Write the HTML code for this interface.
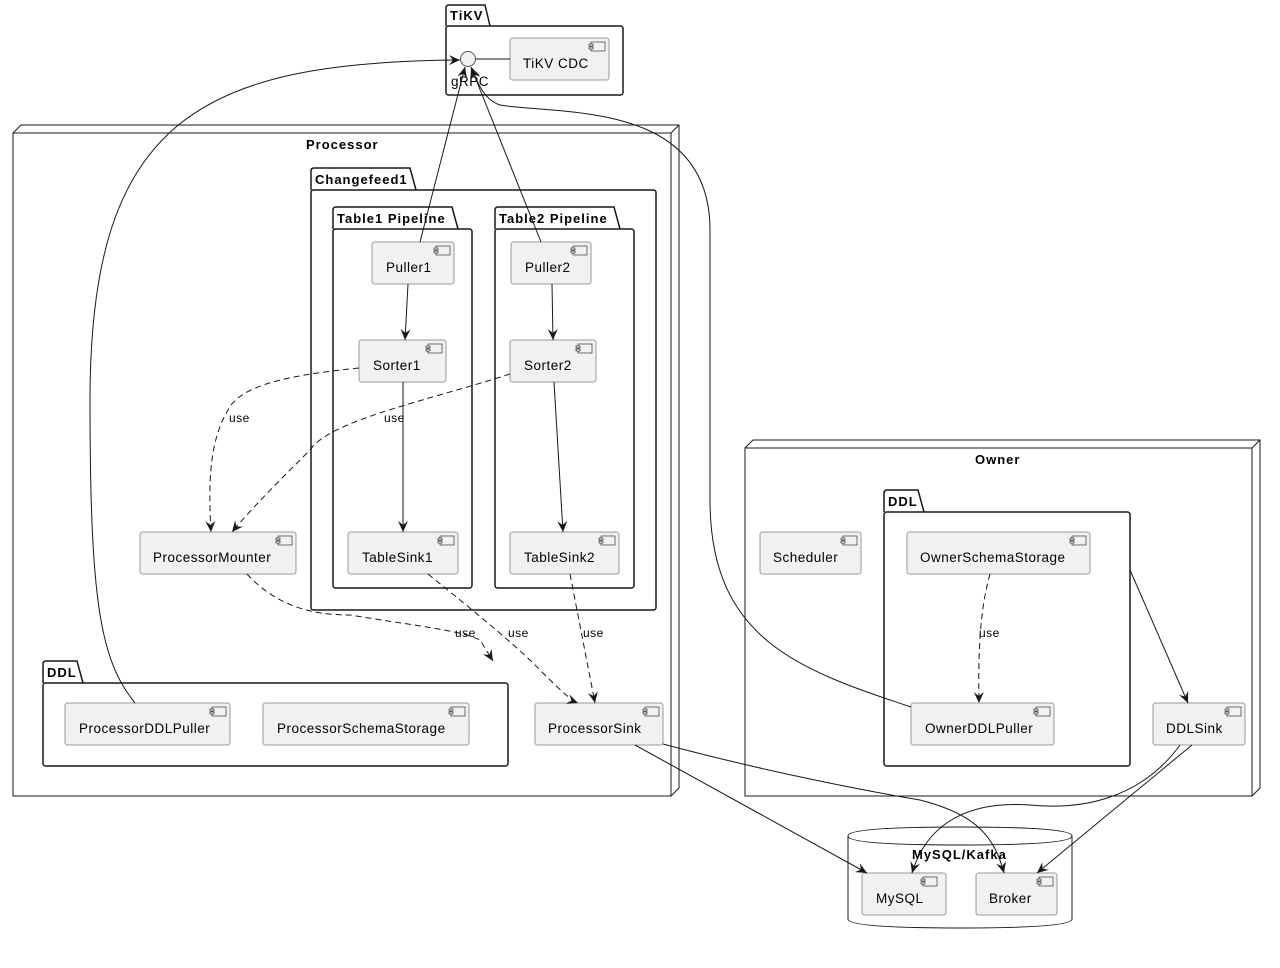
<!DOCTYPE html>
<html><head><meta charset="utf-8"><style>
html,body{margin:0;padding:0;background:#fff}
svg text{font-family:"Liberation Sans",sans-serif}
</style></head><body>
<svg width="1280" height="963" viewBox="0 0 1280 963" xmlns="http://www.w3.org/2000/svg">
<defs>
<marker id="a" viewBox="0 0 12 12" refX="11" refY="6" markerWidth="12" markerHeight="12" orient="auto" markerUnits="userSpaceOnUse">
<path d="M0,1 L11,6 L0,11 L4,6 Z" fill="#181818"/></marker>
<g id="ic"><rect x="0" y="0" width="14" height="9" fill="#f1f1f1" stroke="#181818" stroke-width="0.6"/><rect x="-2" y="2" width="4" height="2" fill="#f1f1f1" stroke="#181818" stroke-width="0.6"/><rect x="-2" y="5" width="4" height="2" fill="#f1f1f1" stroke="#181818" stroke-width="0.6"/></g>
</defs>
<g fill="none" stroke="#181818" stroke-width="1.5">
<!-- TiKV -->
<path d="M446,26 V8 Q446,5 449,5 H485 L490,26"/>
<rect x="446" y="26" width="177" height="69" rx="2.5"/>
<!-- Processor node -->
<path d="M13,133 L21,125 H679 V788 L671,796" stroke-width="1"/>
<rect x="13" y="133" width="658" height="663" stroke-width="1"/>
<path d="M671,133 L679,125" stroke-width="1"/>
<!-- Owner node -->
<path d="M745,448 L753,440 H1260 V788 L1252,796" stroke-width="1"/>
<rect x="745" y="448" width="507" height="348" stroke-width="1"/>
<path d="M1252,448 L1260,440" stroke-width="1"/>
<!-- Changefeed1 -->
<path d="M311,190 V171 Q311,168 314,168 H410 L416,190"/>
<rect x="311" y="190" width="345" height="420" rx="2.5"/>
<path d="M333,229 V210 Q333,207 336,207 H452 L458,229"/>
<rect x="333" y="229" width="139" height="359" rx="2.5"/>
<path d="M495,229 V210 Q495,207 498,207 H614 L620,229"/>
<rect x="495" y="229" width="139" height="359" rx="2.5"/>
<path d="M43,683 V664 Q43,661 46,661 H77 L83,683"/>
<rect x="43" y="683" width="465" height="83" rx="2.5"/>
<path d="M884,512 V493 Q884,490 887,490 H918 L924,512"/>
<rect x="884" y="512" width="246" height="254" rx="2.5"/>
<!-- cylinder -->
<path d="M848,836 Q848,827 960,827 Q1072,827 1072,836 V919 Q1072,928 960,928 Q848,928 848,919 Z" stroke-width="1"/>
<path d="M848,836 Q848,845 960,845 Q1072,845 1072,836" stroke-width="1"/>
</g>
<g font-size="13" font-weight="bold" letter-spacing="1" fill="#000">
<text x="450" y="20">TiKV</text>
<text x="306" y="149">Processor</text>
<text x="315" y="184">Changefeed1</text>
<text x="337" y="223">Table1 Pipeline</text>
<text x="499" y="223">Table2 Pipeline</text>
<text x="47" y="677">DDL</text>
<text x="975" y="464">Owner</text>
<text x="888" y="506">DDL</text>
<text x="912" y="859">MySQL/Kafka</text>
</g>
<!-- components -->
<g fill="#f1f1f1" stroke="#999" stroke-width="1">
<rect x="510" y="38" width="99" height="42" rx="2.5"/>
<rect x="372" y="242" width="82" height="42" rx="2.5"/>
<rect x="511" y="242" width="80" height="42" rx="2.5"/>
<rect x="359" y="340" width="87" height="42" rx="2.5"/>
<rect x="510" y="340" width="86" height="42" rx="2.5"/>
<rect x="140" y="532" width="156" height="42" rx="2.5"/>
<rect x="348" y="532" width="110" height="42" rx="2.5"/>
<rect x="510" y="532" width="109" height="42" rx="2.5"/>
<rect x="65" y="703" width="165" height="42" rx="2.5"/>
<rect x="263" y="703" width="206" height="42" rx="2.5"/>
<rect x="535" y="703" width="128" height="42" rx="2.5"/>
<rect x="760" y="532" width="101" height="42" rx="2.5"/>
<rect x="907" y="532" width="183" height="42" rx="2.5"/>
<rect x="911" y="703" width="143" height="42" rx="2.5"/>
<rect x="1153" y="703" width="92" height="42" rx="2.5"/>
<rect x="862" y="873" width="84" height="42" rx="2.5"/>
<rect x="976" y="873" width="81" height="42" rx="2.5"/>
</g>
<g>
<use href="#ic" x="591" y="42"/><use href="#ic" x="436" y="246"/><use href="#ic" x="573" y="246"/>
<use href="#ic" x="428" y="344"/><use href="#ic" x="578" y="344"/><use href="#ic" x="278" y="536"/>
<use href="#ic" x="440" y="536"/><use href="#ic" x="601" y="536"/><use href="#ic" x="212" y="707"/>
<use href="#ic" x="451" y="707"/><use href="#ic" x="645" y="707"/><use href="#ic" x="843" y="536"/>
<use href="#ic" x="1072" y="536"/><use href="#ic" x="1036" y="707"/><use href="#ic" x="1227" y="707"/>
<use href="#ic" x="923" y="877"/><use href="#ic" x="1039" y="877"/>
</g>
<g font-size="13.5" fill="#000" letter-spacing="0.5">
<text x="523" y="68">TiKV CDC</text>
<text x="386" y="272">Puller1</text>
<text x="525" y="272">Puller2</text>
<text x="373" y="370">Sorter1</text>
<text x="524" y="370">Sorter2</text>
<text x="153" y="562">ProcessorMounter</text>
<text x="362" y="562">TableSink1</text>
<text x="524" y="562">TableSink2</text>
<text x="79" y="733">ProcessorDDLPuller</text>
<text x="277" y="733">ProcessorSchemaStorage</text>
<text x="548" y="733">ProcessorSink</text>
<text x="773" y="562">Scheduler</text>
<text x="920" y="562">OwnerSchemaStorage</text>
<text x="925" y="733">OwnerDDLPuller</text>
<text x="1166" y="733">DDLSink</text>
<text x="876" y="903">MySQL</text>
<text x="989" y="903">Broker</text>
<text x="451" y="86">gRPC</text>
</g>
<g font-size="12" fill="#000" letter-spacing="0.5">
<text x="229" y="422">use</text><text x="384" y="422">use</text>
<text x="455" y="637">use</text><text x="508" y="637">use</text><text x="583" y="637">use</text>
<text x="979" y="637">use</text>
</g>
<!-- edges -->
<g fill="none" stroke="#181818" stroke-width="1">
<line x1="476" y1="59" x2="510" y2="59"/>
<path d="M135,703 C100,660 90,600 90,400 C90,120 200,62 460,60" marker-end="url(#a)"/>
<path d="M420,242 L465,67" marker-end="url(#a)"/>
<path d="M541,242 L471,67" marker-end="url(#a)"/>
<path d="M911,707 C800,670 710,640 710,500 L710,230 C710,100 560,115 500,105 C485,100 478,85 472,68" marker-end="url(#a)"/>
<path d="M408,284 L405,340" marker-end="url(#a)"/>
<path d="M552,284 L553,340" marker-end="url(#a)"/>
<path d="M403,382 L403,532" marker-end="url(#a)"/>
<path d="M554,382 L563,532" marker-end="url(#a)"/>
<g stroke-dasharray="6,4">
<path d="M359,368 C290,375 240,385 228,410 C210,440 208,480 211,532" marker-end="url(#a)"/>
<path d="M510,374 C430,400 330,420 310,450 C280,480 250,510 232,532" marker-end="url(#a)"/>
<path d="M247,574 C280,610 320,615 350,615 C410,625 460,630 480,640 L493,661" marker-end="url(#a)"/>
<path d="M428,574 C460,600 510,640 535,665 C555,685 570,700 578,703" marker-end="url(#a)"/>
<path d="M570,574 L595,703" marker-end="url(#a)"/>
<path d="M990,574 C980,610 978,650 979,703" marker-end="url(#a)"/>
</g>
<path d="M1130,570 L1188,703" marker-end="url(#a)"/>
<path d="M635,745 L867,873" marker-end="url(#a)"/>
<path d="M663,744 C760,770 860,790 920,800 C980,815 995,840 1004,873" marker-end="url(#a)"/>
<path d="M1180,745 C1140,800 1080,810 1030,805 C960,800 925,830 912,873" marker-end="url(#a)"/>
<path d="M1192,745 L1037,873" marker-end="url(#a)"/>
</g>
<circle cx="468" cy="59" r="7.5" fill="#f1f1f1" stroke="#555" stroke-width="1"/>
</svg>
</body></html>
